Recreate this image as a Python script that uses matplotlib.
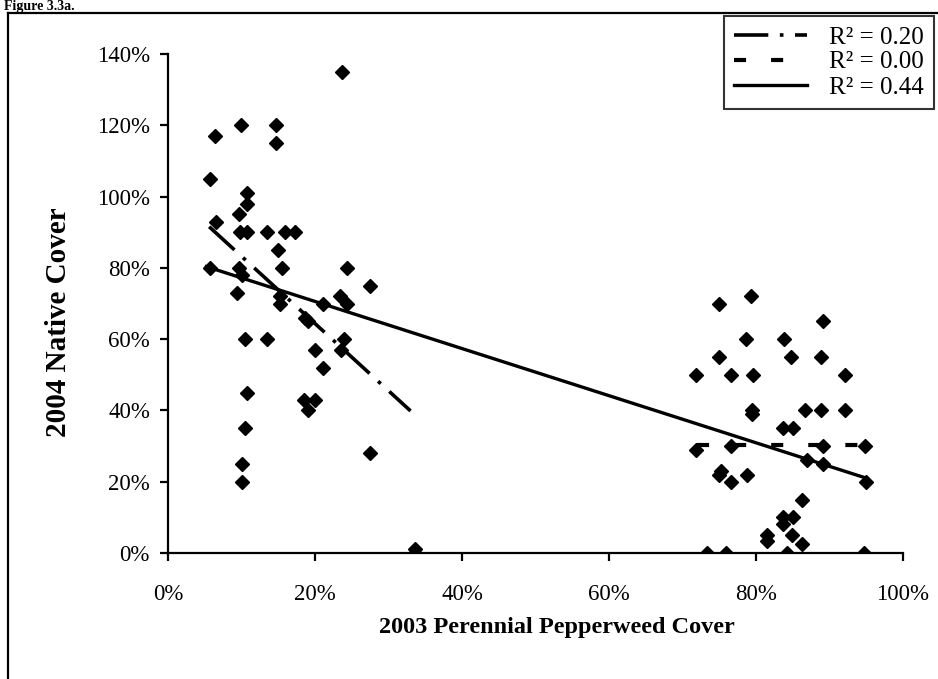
import matplotlib
matplotlib.use("Agg")
import matplotlib.pyplot as plt
from matplotlib.lines import Line2D
import numpy as np

# ---- data ----
x_low = [0.237, 0.099, 0.147, 0.147, 0.064, 0.057, 0.108, 0.108, 0.096, 0.065,
         0.098, 0.107, 0.135, 0.159, 0.173, 0.149, 0.057, 0.096, 0.155, 0.243,
         0.100, 0.275, 0.094, 0.152, 0.152, 0.211, 0.234, 0.243, 0.186, 0.190,
         0.239, 0.236, 0.200, 0.211, 0.105, 0.135, 0.107, 0.185, 0.200, 0.190,
         0.105, 0.275, 0.100, 0.100, 0.336, 0.336]
y_low = [1.35, 1.20, 1.20, 1.15, 1.17, 1.05, 1.01, 0.98, 0.95, 0.93,
         0.90, 0.90, 0.90, 0.90, 0.90, 0.85, 0.80, 0.80, 0.80, 0.80,
         0.78, 0.75, 0.73, 0.72, 0.70, 0.70, 0.72, 0.70, 0.66, 0.65,
         0.60, 0.57, 0.57, 0.52, 0.60, 0.60, 0.45, 0.43, 0.43, 0.40,
         0.35, 0.28, 0.25, 0.20, 0.01, 0.00]

x_high = [0.793, 0.750, 0.891, 0.787, 0.838, 0.750, 0.848, 0.889, 0.718, 0.766,
          0.796, 0.921, 0.795, 0.795, 0.867, 0.889, 0.921, 0.837, 0.850, 0.719,
          0.766, 0.891, 0.948, 0.869, 0.891, 0.950, 0.750, 0.752, 0.766, 0.788,
          0.862, 0.837, 0.850, 0.837, 0.815, 0.815, 0.849, 0.863, 0.733, 0.759,
          0.842, 0.947]
y_high = [0.72, 0.70, 0.65, 0.60, 0.60, 0.55, 0.55, 0.55, 0.50, 0.50,
          0.50, 0.50, 0.40, 0.39, 0.40, 0.40, 0.40, 0.35, 0.35, 0.29,
          0.30, 0.30, 0.30, 0.26, 0.25, 0.20, 0.22, 0.23, 0.20, 0.22,
          0.15, 0.10, 0.10, 0.08, 0.05, 0.035, 0.05, 0.025, 0.00, 0.00,
          0.00, 0.00]

# trend lines: (slope, intercept, x_start, x_end)
trend_labels = ["R\u00b2 = 0.20", "R\u00b2 = 0.00", "R\u00b2 = 0.44"]
trend_slope = [-1.886, 0.0, -0.661]
trend_intercept = [1.021, 0.303, 0.838]
trend_xstart = [0.056, 0.72, 0.05]
trend_xend = [0.33, 0.95, 0.95]

x_ticks = [0, 0.2, 0.4, 0.6, 0.8, 1.0]
y_ticks = [0, 0.2, 0.4, 0.6, 0.8, 1.0, 1.2, 1.4]
x_label = "2003 Perennial Pepperweed Cover"
y_label = "2004 Native Cover"
fig_title = "Figure 3.3a."

# ---- figure ----
W, H = 938, 679
fig = plt.figure(figsize=(W / 100, H / 100), dpi=100)
serif = ["Liberation Serif", "DejaVu Serif"]

ax = fig.add_axes([168 / W, 1 - 553 / H, (903 - 168) / W, (553 - 54) / H])

styles = [
    dict(linestyle=(0, (9.5, 3.2, 1.0, 3.2)), linewidth=2.6, color="black"),
    dict(linestyle=(0, (2.9, 6.0)), linewidth=3.0, color="black"),
    dict(linestyle="-", linewidth=2.4, color="black"),
]

for s, b, x0, x1, st in zip(trend_slope, trend_intercept, trend_xstart, trend_xend, styles):
    xs = np.array([x0, x1])
    ax.plot(xs, s * xs + b, zorder=3, solid_capstyle="butt", dash_capstyle="butt", **st)

ax.plot(x_low + x_high, y_low + y_high, linestyle="none", marker="D",
        markersize=7.3, color="black", zorder=4)

ax.set_xlim(0, 1.0)
ax.set_ylim(0, 1.4)
ax.set_xticks(x_ticks)
ax.set_yticks(y_ticks)
ax.set_xticklabels([f"{int(round(v * 100))}%" for v in x_ticks])
ax.set_yticklabels([f"{int(round(v * 100))}%" for v in y_ticks])
for sp in ["top", "right"]:
    ax.spines[sp].set_visible(False)
for sp in ["left", "bottom"]:
    ax.spines[sp].set_linewidth(1.6)
ax.tick_params(axis="both", direction="out", length=6, width=1.6,
               labelsize=16.5, pad=7)
for lab in ax.get_xticklabels() + ax.get_yticklabels():
    lab.set_family(serif)
ax.tick_params(axis="x", pad=16)

fig.text(557 / W, 1 - 627 / H, x_label, ha="center", va="center",
         fontsize=17.5, fontweight="bold", family=serif)
fig.text(58 / W, 1 - 322 / H, y_label, ha="center", va="center",
         rotation=90, fontsize=21, fontweight="bold", family=serif)

# figure caption in the strip above the frame
fig.text(4 / W, 1 - 10 / H, fig_title, ha="left", va="baseline",
         fontsize=10, fontweight="bold", family=serif)

handles = [Line2D([0], [0], **st) for st in styles]
leg = fig.legend(handles, trend_labels, loc="upper right",
                 bbox_to_anchor=(934 / W, 1 - 16 / H), frameon=True,
                 fancybox=False, prop={"family": serif, "size": 18},
                 handlelength=2.9, borderpad=0.4, labelspacing=0.1,
                 handletextpad=0.9, borderaxespad=0)
leg.get_frame().set_edgecolor("black")
leg.get_frame().set_linewidth(1.5)

# outer frame (extends past image bottom/right)
fig.add_artist(Line2D([8 / W, 8 / W], [0, 1 - 13 / H], color="black", linewidth=1.6))
fig.add_artist(Line2D([8 / W, 1], [1 - 13 / H, 1 - 13 / H], color="black", linewidth=1.6))

fig.savefig("out.png", dpi=100)
